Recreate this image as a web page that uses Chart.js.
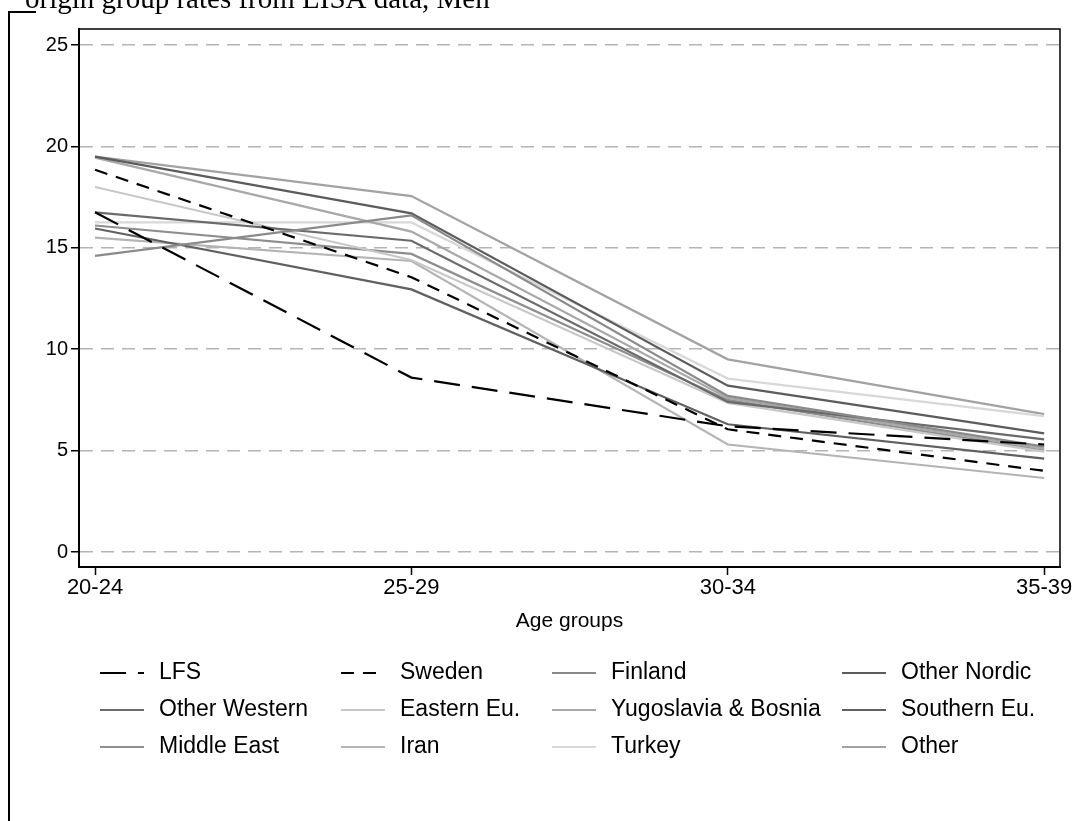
<!DOCTYPE html>
<html>
<head>
<meta charset="utf-8">
<script src="https://cdn.jsdelivr.net/npm/chart.js@4/dist/chart.umd.min.js"></script>
<style>
  html, body { margin: 0; padding: 0; background: #ffffff; }
  #wrap { position: relative; width: 1078px; height: 821px; overflow: hidden; }
  canvas { display: block; }
</style>
</head>
<body>
<div id="wrap"><canvas id="c" width="1078" height="821"></canvas></div>
<script>
// Age groups on the horizontal axis
const ageGroups = ['20-24', '25-29', '30-34', '35-39'];
const yTickValues = [0, 5, 10, 15, 20, 25];
const titleText = 'origin group rates from LISA data, Men';
const xAxisTitle = 'Age groups';

// Rates by origin group, one value per age group
const seriesNames = ['LFS', 'Sweden', 'Finland', 'Other Nordic',
  'Other Western', 'Eastern Eu.', 'Yugoslavia & Bosnia', 'Southern Eu.',
  'Middle East', 'Iran', 'Turkey', 'Other'];
const lfs          = [16.75, 8.6, 6.2, 5.3];
const sweden       = [18.85, 13.55, 6.05, 4.0];
const finland      = [14.6, 16.6, 7.7, 5.2];
const otherNordic  = [19.5, 16.7, 8.2, 5.85];
const otherWestern = [16.75, 15.35, 7.4, 5.55];
const easternEu    = [18.0, 14.4, 7.35, 4.95];
const yugoslavia   = [19.45, 15.8, 7.6, 5.1];
const southernEu   = [15.95, 12.95, 6.3, 4.6];
const middleEast   = [16.1, 14.7, 7.5, 5.0];
const iran         = [15.5, 14.35, 5.3, 3.65];
const turkey       = [16.25, 16.25, 8.55, 6.7];
const other        = [19.5, 17.55, 9.5, 6.8];

const seriesValues = [lfs, sweden, finland, otherNordic, otherWestern, easternEu,
  yugoslavia, southernEu, middleEast, iran, turkey, other];

const seriesColors = ['#000000', '#000000', '#8a8a8a', '#5c5c5c', '#6a6a6a', '#c8c8c8',
  '#a8a8a8', '#606060', '#8e8e8e', '#b4b4b4', '#d8d8d8', '#a2a2a2'];
const seriesDash = [[26, 12], [13, 9], [], [], [], [], [], [], [], [], [], []];

const FONT = '"Liberation Sans", Arial, sans-serif';

const datasets = seriesNames.map((name, i) => ({
  label: name,
  data: seriesValues[i].map((v, k) => ({ x: k, y: v })),
  borderColor: seriesColors[i],
  borderDash: seriesDash[i],
  borderWidth: 2.2,
  pointRadius: 0,
  tension: 0,
  fill: false
}));

// Frame, title and four-column legend drawn around the plot
const decorations = {
  id: 'decorations',
  afterDraw(chart) {
    const ctx = chart.ctx;
    const a = chart.chartArea;
    ctx.save();
    // plot frame (top and right edges)
    ctx.strokeStyle = '#000000';
    ctx.lineWidth = 1.5;
    ctx.beginPath();
    ctx.moveTo(a.left, a.top);
    ctx.lineTo(a.right, a.top);
    ctx.lineTo(a.right, a.bottom);
    ctx.stroke();

    // outer figure border
    ctx.lineWidth = 2;
    ctx.beginPath();
    ctx.moveTo(36, 12);
    ctx.lineTo(9, 12);
    ctx.lineTo(9, 821);
    ctx.stroke();

    // title
    ctx.fillStyle = '#000000';
    ctx.font = '29px "Liberation Serif", "Times New Roman", serif';
    ctx.textBaseline = 'alphabetic';
    ctx.textAlign = 'left';
    ctx.fillText(titleText, 25, 8);

    // legend
    const colX = [100, 341, 552, 842];
    const rowY = [673, 710, 747];
    ctx.font = '23px ' + FONT;
    ctx.textBaseline = 'middle';
    chart.data.datasets.forEach((ds, i) => {
      const x = colX[i % 4];
      const y = rowY[Math.floor(i / 4)];
      ctx.strokeStyle = ds.borderColor;
      ctx.lineWidth = 2.2;
      ctx.setLineDash(ds.borderDash);
      ctx.beginPath();
      ctx.moveTo(x, y);
      ctx.lineTo(x + 44, y);
      ctx.stroke();
      ctx.setLineDash([]);
      ctx.fillStyle = '#000000';
      ctx.fillText(ds.label, x + 59, y);
    });
    ctx.restore();
  }
};

new Chart(document.getElementById('c'), {
  type: 'line',
  data: { datasets },
  options: {
    responsive: false,
    animation: false,
    events: [],
    layout: { padding: { left: 0, top: 29, right: 18, bottom: 187 } },
    plugins: { legend: { display: false }, tooltip: { enabled: false }, title: { display: false } },
    scales: {
      x: {
        type: 'linear',
        min: -0.0506,
        max: 3.05,
        afterBuildTicks(scale) { scale.ticks = ageGroups.map((_, k) => ({ value: k })); },
        afterFit(scale) { scale.height = 67; },
        ticks: {
          callback: (v) => ageGroups[v],
          color: '#000000',
          font: { family: FONT, size: 22 },
          padding: 0,
          maxRotation: 0,
          autoSkip: false
        },
        grid: { drawOnChartArea: false, drawTicks: true, tickLength: 8, tickColor: '#000000', tickWidth: 1.5 },
        border: { display: true, color: '#000000', width: 2 },
        title: { display: true, text: xAxisTitle, color: '#000000', font: { family: FONT, size: 21 }, padding: 0 }
      },
      y: {
        min: -0.74,
        max: 25.79,
        afterBuildTicks(scale) { scale.ticks = yTickValues.map(v => ({ value: v })); },
        afterFit(scale) { scale.width = 79; },
        ticks: {
          color: '#000000',
          font: { family: FONT, size: 20 },
          padding: 3
        },
        grid: {
          color: '#b4b4b4',
          lineWidth: 1.5,
          drawTicks: true,
          tickLength: 8,
          tickColor: '#000000',
          tickWidth: 1.5,
          tickBorderDash: []
        },
        border: { display: true, color: '#000000', width: 2, dash: [13, 8] }
      }
    }
  },
  plugins: [decorations]
});
</script>
</body>
</html>
